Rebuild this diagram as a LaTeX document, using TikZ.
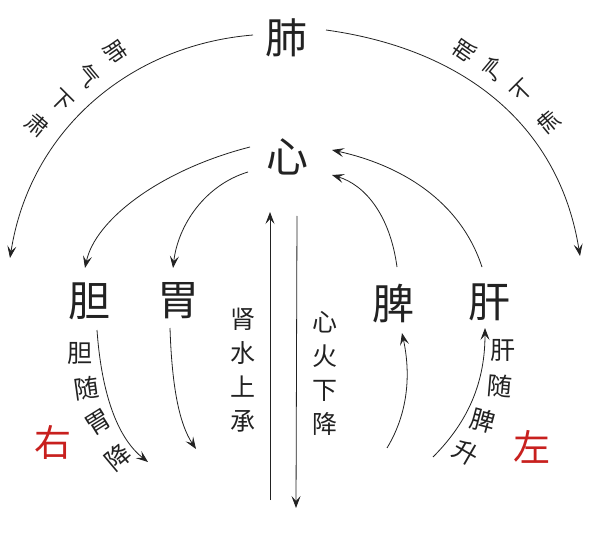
\documentclass[tikz,border=0pt]{standalone}
\usepackage{fontspec}
\usepackage{graphicx}
\newfontfamily\cjk{Noto Sans CJK SC}
\usetikzlibrary{arrows.meta}
\definecolor{ink}{HTML}{222222}
\definecolor{redink}{HTML}{C8201E}
\tikzset{
  big/.style={inner sep=0pt, font=\cjk\fontsize{42}{42}\selectfont, text=ink},
  redlab/.style={inner sep=0pt, font=\cjk\fontsize{37}{37}\selectfont, text=redink},
  col/.style={inner sep=0pt, align=center, font=\cjk\fontsize{25}{34}\selectfont, text=ink},
  arcch/.style={inner sep=0pt, font=\cjk\fontsize{22}{22}\selectfont, text=ink},
  smallch/.style={inner sep=0pt, font=\cjk\fontsize{25}{25}\selectfont, text=ink},
  flow/.style={draw=ink, line width=0.8pt, -{Stealth[length=12pt,width=9pt,inset=5pt]}},
}
\begin{document}
\begin{tikzpicture}[x=1pt,y=-1pt]
\useasboundingbox[fill=white] (0,0) rectangle (600,540);

% main organs
\node[big] (fei) at (286,38) {肺};
\node[big] (xin) at (287,157) {心};
\node[big] (dan) at (89,301) {胆};
\node[big] (wei) at (178,301) {胃};
\node[big] (pi) at (393,304) {脾};
\node[big] (gan) at (489,302) {肝};
\node[redlab] (you) at (53,442) {右};
\node[redlab] (zuo) at (532,447) {左};

% vertical labels
\node[col] (shen) at (243,370) {肾\\水\\上\\承};
\node[col] (huo) at (325,373) {心\\火\\下\\降};

% arc labels left
\node[arcch, rotate=-55] (l1) at (116,52) {肺};
\node[arcch, rotate=-50] (l2) at (88,76) {气};
\node[arcch, rotate=-45] (l3) at (62,101) {下};
\node[arcch, rotate=-40] (l4) at (37,125) {肃};
% arc labels right (mirrored)
\node[arcch, rotate=55] (r1) at (464,51) {\reflectbox{肺}};
\node[arcch, rotate=50] (r2) at (494,69) {\reflectbox{气}};
\node[arcch, rotate=45] (r3) at (522,91) {\reflectbox{下}};
\node[arcch, rotate=40] (r4) at (549,122) {\reflectbox{肃}};

% curved labels bottom left
\node[smallch] (b1) at (80,353) {胆};
\node[smallch, rotate=8] (b2) at (87,388) {随};
\node[smallch, rotate=32] (b3) at (98,422) {胃};
\node[smallch, rotate=40] (b4) at (118,457) {降};
% curved labels bottom right
\node[smallch] (g1) at (503,350) {肝};
\node[smallch, rotate=-5] (g2) at (500,386) {随};
\node[smallch, rotate=-15] (g3) at (483,421) {脾};
\node[smallch, rotate=-30] (g4) at (466,453) {升};

% connector ends
\coordinate (feiL) at (253,35);
\coordinate (feiR) at (326,30);
\coordinate (endL) at (10,258);
\coordinate (endR) at (580,256);
\coordinate (xinA) at (250,147);
\coordinate (xinB) at (248,172);
\coordinate (xinC) at (332,175);
\coordinate (xinD) at (332,150);
\coordinate (danT) at (85,268);
\coordinate (weiT) at (173,268);
\coordinate (piT) at (397,267);
\coordinate (ganT) at (482,267);
\coordinate (upBot) at (270,500);
\coordinate (upTop) at (270,212);
\coordinate (dnTop) at (297,216);
\coordinate (dnBot) at (296,508);
\coordinate (weiB) at (170,328);
\coordinate (weiEnd) at (196,449);
\coordinate (danB) at (97,330);
\coordinate (danEnd) at (148,462);
\coordinate (piStart) at (387,448);
\coordinate (piB) at (402,333);
\coordinate (ganStart) at (433,457);
\coordinate (ganB) at (485,328);

% lung arcs
\draw[flow] (feiL) .. controls (130,45) and (30,130) .. (endL);
\draw[flow] (feiR) .. controls (470,50) and (560,130) .. (endR);

% heart to gallbladder / stomach
\draw[flow] (xinA) .. controls (160,170) and (95,220) .. (danT);
\draw[flow] (xinB) .. controls (205,185) and (178,225) .. (weiT);

% spleen / liver to heart
\draw[flow] (piT) .. controls (390,215) and (365,185) .. (xinC);
\draw[flow] (ganT) .. controls (460,200) and (400,165) .. (xinD);

% vertical water / fire
\draw[flow] (upBot) -- (upTop);
\draw[flow] (dnTop) -- (dnBot);

% lower arrows
\draw[flow] (weiB) .. controls (172,390) and (180,425) .. (weiEnd);
\draw[flow] (danB) .. controls (102,400) and (120,440) .. (danEnd);
\draw[flow] (piStart) .. controls (410,410) and (410,370) .. (piB);
\draw[flow] (ganStart) .. controls (470,420) and (485,380) .. (ganB);
\end{tikzpicture}
\end{document}
